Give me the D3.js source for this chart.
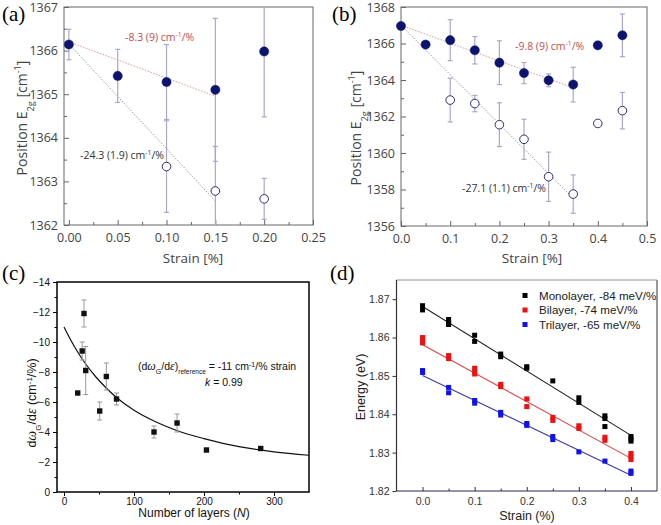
<!DOCTYPE html>
<html><head><meta charset="utf-8">
<script src="https://cdn.jsdelivr.net/npm/d3@7"></script>
<style>body{margin:0;background:#fff} svg{display:block}</style>
</head><body><svg id="c" width="661" height="525"></svg>
<script>
// ---------- DATA ----------
// Panel (a)
const aFilledStrain = [0, 0.05, 0.10, 0.15, 0.20];
const aFilledPos = [1366.14, 1365.42, 1365.28, 1365.10, 1365.98];
const aFilledErr = [0.35, 0.61, 0.86, 1.64, 1.50];
const aOpenStrain = [0.10, 0.15, 0.20];
const aOpenPos = [1363.34, 1362.78, 1362.60];
const aOpenErr = [1.05, 1.02, 0.47];
const aFitStrain = [0, 0.15];
const aFitFilled = [1366.20, 1364.955];
const aFitOpen = [1366.15, 1362.55];
const aXTicks = [0, 0.05, 0.10, 0.15, 0.20, 0.25];
const aYTicks = [1362, 1363, 1364, 1365, 1366, 1367];

// Panel (b)
const bFilledStrain = [0, 0.05, 0.10, 0.15, 0.20, 0.25, 0.30, 0.35, 0.40, 0.45];
const bFilledPos = [1366.96, 1365.94, 1366.18, 1365.63, 1364.95, 1364.38, 1363.98, 1363.75, 1365.90, 1366.45];
const bFilledErr = [0, 0, 1.12, 0.75, 1.2, 0.58, 0.35, 0.95, 0, 1.17];
const bOpenStrain = [0.10, 0.15, 0.20, 0.25, 0.30, 0.35, 0.40, 0.45];
const bOpenPos = [1362.90, 1362.71, 1361.55, 1360.75, 1358.70, 1357.75, 1361.62, 1362.32];
const bOpenErr = [1.2, 0.45, 1.2, 1.1, 1.35, 1.05, 0, 1.0];
const bFitStrain = [0, 0.35];
const bFitFilled = [1367.0, 1363.57];
const bFitOpen = [1367.0, 1357.52];
const bXTicks = [0, 0.1, 0.2, 0.3, 0.4, 0.5];
const bYTicks = [1356, 1358, 1360, 1362, 1364, 1366, 1368];

// Panel (c)
const cLayers = [19.6, 26, 28.6, 31, 51, 60.5, 75, 128.6, 161.5, 203.5, 281];
const cSlope = [-6.6, -9.4, -11.9, -8.1, -5.4, -7.7, -6.2, -4.0, -4.6, -2.8, -2.9];
const cErr = [0, 0.6, 0.9, 1.6, 0.6, 0.9, 0.4, 0.4, 0.6, 0, 0.1];
const cCurveN = [0, 10, 20, 30, 45, 60, 75, 100, 130, 160, 200, 250, 300, 350];
const cCurveVal = [-11.0, -10.1, -9.3, -8.6, -7.7, -6.95, -6.3, -5.45, -4.7, -4.12, -3.56, -3.02, -2.68, -2.45];
const cXTicks = [0, 100, 200, 300];
const cYTicks = [0, -2, -4, -6, -8, -10, -12, -14];

// Panel (d)
const dSeries = ["Monolayer, -84 meV/%", "Bilayer, -74 meV/%", "Trilayer, -65 meV/%"];
const monoStrain = [0,0, 0.05,0.05,0.05, 0.1,0.1, 0.15,0.15, 0.2,0.2, 0.25, 0.3,0.3, 0.35,0.35,0.35, 0.4,0.4,0.4];
const monoEnergy = [1.8683,1.8672, 1.8647,1.8640,1.8634, 1.8606,1.8590, 1.8557,1.8550, 1.8524,1.8520, 1.8487, 1.8443,1.8431, 1.8396,1.8389,1.8368, 1.8342,1.8336,1.8330];
const biStrain = [0,0,0, 0.05,0.05, 0.1,0.1,0.1, 0.15,0.15, 0.2,0.2, 0.25,0.25, 0.3,0.3, 0.35,0.35, 0.4,0.4,0.4];
const biEnergy = [1.8600,1.8593,1.8586, 1.8553,1.8545, 1.8520,1.8512,1.8505, 1.8478,1.8472, 1.8440,1.8420, 1.8392,1.8384, 1.8370,1.8363, 1.8340,1.8332, 1.8298,1.8290,1.8282];
const triStrain = [0,0, 0.05,0.05, 0.1,0.1, 0.15,0.15, 0.2,0.2, 0.25,0.25, 0.3, 0.35, 0.4,0.4];
const triEnergy = [1.8514,1.8509, 1.8470,1.8456, 1.8436,1.8429, 1.8405,1.8398, 1.8376,1.8371, 1.8342,1.8334, 1.8302, 1.8278, 1.8252,1.8246];
const dFitStrain = [0, 0.4];
const monoFit = [1.8681, 1.8345];
const biFit = [1.8581, 1.8285];
const triFit = [1.8501, 1.8241];
const dXTicks = [0.0, 0.1, 0.2, 0.3, 0.4];
const dYTicks = [1.82, 1.83, 1.84, 1.85, 1.86, 1.87];

// ---------- DRAW ----------
const svg = d3.select("#c");
const OS = "'Open Sans', 'DejaVu Sans', sans-serif";
const AR = "'Liberation Sans', Arial, sans-serif";
const SERIF = "'Liberation Serif', 'DejaVu Serif', serif";

function panelLabel(t, x, y) {
  svg.append("text").attr("x", x).attr("y", y).attr("font-family", SERIF)
    .attr("font-size", 21).attr("fill", "#000").text(t);
}

function supText(sel, parts) {
  parts.forEach(([t, m]) => {
    const ts = sel.append("tspan").text(t);
    if (m === 'sub') ts.attr("baseline-shift", "sub").attr("font-size", "65%");
    if (m === 'sup') ts.attr("baseline-shift", "super").attr("font-size", "65%");
  });
}

// ---- Raman panels (a) and (b) ----
function ramanPanel(o) {
  const g = svg.append("g");
  const x = d3.scaleLinear().domain(o.xDom).range([o.L, o.R]);
  const y = d3.scaleLinear().domain(o.yDom).range([o.B, o.T]);
  const yc = v => y(Math.max(o.yDom[0], Math.min(o.yDom[1], v)));
  const xMinor = g.append("g").attr("transform", `translate(0,${o.B})`)
    .call(d3.axisBottom(x).tickValues(o.xMinor).tickSize(-3).tickFormat(""));
  const yMinor = g.append("g").attr("transform", `translate(${o.L},0)`)
    .call(d3.axisLeft(y).tickValues(o.yMinor).tickSize(-3).tickFormat(""));
  const xa = g.append("g").attr("transform", `translate(0,${o.B})`)
    .call(d3.axisBottom(x).tickValues(o.xTicks).tickSize(-5).tickPadding(8).tickFormat(o.xFmt));
  const ya = g.append("g").attr("transform", `translate(${o.L},0)`)
    .call(d3.axisLeft(y).tickValues(o.yTicks).tickSize(-5).tickPadding(6).tickFormat(d3.format("d")));
  [xMinor, yMinor, xa, ya].forEach(a => {
    a.select(".domain").remove();
    a.selectAll("line").attr("stroke", "#666");
    a.selectAll("text").attr("font-family", OS).attr("font-size", 12.5).attr("fill", "#444");
  });
  g.append("rect").attr("x", o.L).attr("y", o.T).attr("width", o.R - o.L).attr("height", o.B - o.T)
    .attr("fill", "none").attr("stroke", "#666").attr("stroke-width", 1);

  const line = d3.line().x(d => x(d[0])).y(d => y(d[1]));
  g.append("path").datum(o.fitX.map((s, i) => [s, o.fitOpen[i]])).attr("d", line)
    .attr("fill", "none").attr("stroke", "#9a9ab4").attr("stroke-width", 1).attr("stroke-dasharray", "1.5,1.5");
  g.append("path").datum(o.fitX.map((s, i) => [s, o.fitFilled[i]])).attr("d", line)
    .attr("fill", "none").attr("stroke", "#e09a9a").attr("stroke-width", 1).attr("stroke-dasharray", "1.5,1.5");

  function errs(xs, ys, es) {
    xs.forEach((s, i) => {
      if (!es[i]) return;
      const lo = ys[i] - es[i], hi = ys[i] + es[i];
      const cx = x(s);
      g.append("line").attr("x1", cx).attr("x2", cx).attr("y1", yc(lo)).attr("y2", yc(hi))
        .attr("stroke", "#a8a8cc").attr("stroke-width", 1.2);
      [lo, hi].forEach(v => {
        if (v > o.yDom[0] && v < o.yDom[1])
          g.append("line").attr("x1", cx - 2.5).attr("x2", cx + 2.5).attr("y1", y(v)).attr("y2", y(v))
            .attr("stroke", "#a8a8cc").attr("stroke-width", 1.2);
      });
    });
  }
  errs(o.fs, o.fp, o.fe);
  errs(o.os, o.op, o.oe);

  g.selectAll(".open").data(o.os.map((s, i) => [s, o.op[i]])).join("circle")
    .attr("cx", d => x(d[0])).attr("cy", d => y(d[1])).attr("r", 4.3)
    .attr("fill", "#fff").attr("stroke", "#2d2d7a").attr("stroke-width", 1);
  g.selectAll(".filled").data(o.fs.map((s, i) => [s, o.fp[i]])).join("circle")
    .attr("cx", d => x(d[0])).attr("cy", d => y(d[1])).attr("r", 4.6)
    .attr("fill", "#0c1470").attr("stroke", "#0c1470").attr("stroke-width", 0.5);

  const t1 = g.append("text").attr("x", o.redLab[0]).attr("y", o.redLab[1])
    .attr("font-family", OS).attr("font-size", 10.5).attr("fill", "#c0504d");
  supText(t1, [[o.redTxt + " cm", null], ["-1", "sup"], ["/%", null]]);
  const t2 = g.append("text").attr("x", o.grayLab[0]).attr("y", o.grayLab[1])
    .attr("font-family", OS).attr("font-size", 10.5).attr("fill", "#333");
  supText(t2, [[o.grayTxt + " cm", null], ["-1", "sup"], ["/%", null]]);

  g.append("text").attr("x", o.xTitle[0]).attr("y", o.xTitle[1]).attr("text-anchor", "middle")
    .attr("font-family", OS).attr("font-size", 13.5).attr("fill", "#444").text("Strain [%]");
  const yt = g.append("text").attr("transform", `translate(${o.yTitle[0]},${o.yTitle[1]}) rotate(-90)`)
    .attr("text-anchor", "middle").attr("font-family", OS).attr("font-size", 14).attr("fill", "#444");
  supText(yt, [["Position E", null], ["2g", "sub"], [" [cm", null], ["-1", "sup"], ["]", null]]);
}

ramanPanel({
  L: 64, R: 313, T: 7, B: 225, xDom: [-0.005, 0.25], yDom: [1362, 1367],
  xTicks: aXTicks, yTicks: aYTicks, xMinor: [0.025, 0.075, 0.125, 0.175, 0.225],
  yMinor: [1362.5, 1363.5, 1364.5, 1365.5, 1366.5], xFmt: d3.format(".2f"),
  fs: aFilledStrain, fp: aFilledPos, fe: aFilledErr, os: aOpenStrain, op: aOpenPos, oe: aOpenErr,
  fitX: aFitStrain, fitFilled: aFitFilled, fitOpen: aFitOpen,
  redTxt: "-8.3 (9)", grayTxt: "-24.3 (1.9)", redLab: [125, 41], grayLab: [80, 159],
  xTitle: [193, 263], yTitle: [27, 118]
});
ramanPanel({
  L: 401, R: 647, T: 7, B: 226, xDom: [0, 0.5], yDom: [1356, 1368],
  xTicks: bXTicks, yTicks: bYTicks, xMinor: [0.05, 0.15, 0.25, 0.35, 0.45],
  yMinor: [1357, 1359, 1361, 1363, 1365, 1367], xFmt: d3.format(".1f"),
  fs: bFilledStrain, fp: bFilledPos, fe: bFilledErr, os: bOpenStrain, op: bOpenPos, oe: bOpenErr,
  fitX: bFitStrain, fitFilled: bFitFilled, fitOpen: bFitOpen,
  redTxt: "-9.8 (9)", grayTxt: "-27.1 (1.1)", redLab: [515, 50], grayLab: [462, 192],
  xTitle: [532, 263], yTitle: [361, 128]
});
panelLabel("(a)", 2, 21);
panelLabel("(b)", 332, 21);

// ---- Panel (c) ----
(function () {
  const L = 57, R = 309, T = 282, B = 492;
  const g = svg.append("g");
  const x = d3.scaleLinear().domain([-10, 350]).range([L, R]);
  const y = d3.scaleLinear().domain([0, -14]).range([B, T]);
  const xm = g.append("g").attr("transform", `translate(0,${B})`)
    .call(d3.axisBottom(x).tickValues([50, 150, 250]).tickSize(2.5).tickFormat(""));
  const ym = g.append("g").attr("transform", `translate(${L},0)`)
    .call(d3.axisLeft(y).tickValues([-1, -3, -5, -7, -9, -11, -13]).tickSize(2.5).tickFormat(""));
  const xa = g.append("g").attr("transform", `translate(0,${B})`)
    .call(d3.axisBottom(x).tickValues(cXTicks).tickSize(4).tickPadding(2));
  const ya = g.append("g").attr("transform", `translate(${L},0)`)
    .call(d3.axisLeft(y).tickValues(cYTicks).tickSize(4).tickPadding(3).tickFormat(d3.format("d")));
  [xm, ym, xa, ya].forEach(a => {
    a.select(".domain").remove();
    a.selectAll("line").attr("stroke", "#000").attr("stroke-width", 1);
    a.selectAll("text").attr("font-family", AR).attr("font-size", 10).attr("fill", "#111");
  });
  g.append("rect").attr("x", L).attr("y", T).attr("width", R - L).attr("height", B - T)
    .attr("fill", "none").attr("stroke", "#000").attr("stroke-width", 1.5);

  const curve = d3.line().x(d => x(d[0])).y(d => y(d[1])).curve(d3.curveMonotoneX);
  g.append("path").datum(cCurveN.map((n, i) => [n, cCurveVal[i]])).attr("d", curve)
    .attr("fill", "none").attr("stroke", "#111").attr("stroke-width", 1.2);

  cLayers.forEach((n, i) => {
    if (!cErr[i]) return;
    const cx = x(n), lo = y(cSlope[i] + cErr[i]), hi = y(cSlope[i] - cErr[i]);
    g.append("line").attr("x1", cx).attr("x2", cx).attr("y1", lo).attr("y2", hi).attr("stroke", "#999").attr("stroke-width", 1);
    [lo, hi].forEach(v => g.append("line").attr("x1", cx - 2.5).attr("x2", cx + 2.5).attr("y1", v).attr("y2", v)
      .attr("stroke", "#999").attr("stroke-width", 1));
  });
  g.selectAll(".sq").data(cLayers.map((n, i) => [n, cSlope[i]])).join("rect")
    .attr("x", d => x(d[0]) - 2.7).attr("y", d => y(d[1]) - 2.7).attr("width", 5.4).attr("height", 5.4)
    .attr("fill", "#111");

  const t = g.append("text").attr("x", 138).attr("y", 370).attr("font-family", AR).attr("font-size", 10.5).attr("fill", "#111");
  t.append("tspan").text("(d");
  t.append("tspan").attr("font-family", SERIF).attr("font-style", "italic").attr("font-size", 12).text("ω");
  t.append("tspan").attr("baseline-shift", "sub").attr("font-size", 7).text("G");
  t.append("tspan").text("/d");
  t.append("tspan").attr("font-family", SERIF).attr("font-style", "italic").attr("font-size", 12).text("ε");
  t.append("tspan").text(")");
  t.append("tspan").attr("baseline-shift", "sub").attr("font-size", 6.5).text("reference");
  t.append("tspan").text(" = -11 cm");
  t.append("tspan").attr("baseline-shift", "super").attr("font-size", 7).text("-1");
  t.append("tspan").text("/% strain");
  const k = g.append("text").attr("x", 205).attr("y", 386).attr("font-family", AR).attr("font-size", 10.5).attr("fill", "#111");
  k.append("tspan").attr("font-style", "italic").text("k");
  k.append("tspan").text(" = 0.99");

  const xt = g.append("text").attr("x", 194).attr("y", 517).attr("text-anchor", "middle")
    .attr("font-family", AR).attr("font-size", 12).attr("fill", "#111");
  xt.append("tspan").text("Number of layers (");
  xt.append("tspan").attr("font-style", "italic").text("N");
  xt.append("tspan").text(")");
  const yt = g.append("text").attr("transform", `translate(36,403) rotate(-90)`).attr("text-anchor", "middle")
    .attr("font-family", AR).attr("font-size", 12.5).attr("fill", "#111");
  yt.append("tspan").text("d");
  yt.append("tspan").attr("font-family", SERIF).attr("font-style", "italic").attr("font-size", 14).text("ω");
  yt.append("tspan").attr("baseline-shift", "sub").attr("font-size", 8).text("G");
  yt.append("tspan").text("/d");
  yt.append("tspan").attr("font-family", SERIF).attr("font-style", "italic").attr("font-size", 14).text("ε");
  yt.append("tspan").text(" (cm");
  yt.append("tspan").attr("baseline-shift", "super").attr("font-size", 8).text("-1");
  yt.append("tspan").text("/%)");
})();
panelLabel("(c)", 2, 280);

// ---- Panel (d) ----
(function () {
  const L = 396.5, R = 657, T = 280, B = 491;
  const g = svg.append("g");
  const x = d3.scaleLinear().domain([-0.05, 0.45]).range([L, R]);
  const y = d3.scaleLinear().domain([1.82, 1.875]).range([B, T]);
  const xm = g.append("g").attr("transform", `translate(0,${B})`)
    .call(d3.axisBottom(x).tickValues([0.05, 0.15, 0.25, 0.35]).tickSize(-2.5).tickFormat(""));
  const xa = g.append("g").attr("transform", `translate(0,${B})`)
    .call(d3.axisBottom(x).tickValues(dXTicks).tickSize(-4).tickPadding(7).tickFormat(d3.format(".1f")));
  const ya = g.append("g").attr("transform", `translate(${L},0)`)
    .call(d3.axisLeft(y).tickValues(dYTicks).tickSize(4).tickPadding(3).tickFormat(d3.format(".2f")));
  [xm, xa, ya].forEach(a => {
    a.select(".domain").remove();
    a.selectAll("line").attr("stroke", "#333");
    a.selectAll("text").attr("font-family", AR).attr("font-size", 10.5).attr("fill", "#333");
  });
  g.append("line").attr("x1", L).attr("x2", R).attr("y1", T).attr("y2", T).attr("stroke", "#777").attr("stroke-width", 0.8);
  g.append("line").attr("x1", R).attr("x2", R).attr("y1", T).attr("y2", B).attr("stroke", "#777").attr("stroke-width", 1.5);
  g.append("line").attr("x1", L).attr("x2", L).attr("y1", T).attr("y2", B).attr("stroke", "#333").attr("stroke-width", 1.2);
  g.append("line").attr("x1", L).attr("x2", R).attr("y1", B).attr("y2", B).attr("stroke", "#2a2a55").attr("stroke-width", 1.2);

  const sets = [
    { sx: monoStrain, e: monoEnergy, fit: monoFit, c: "#000", lc: "#222" },
    { sx: biStrain, e: biEnergy, fit: biFit, c: "#ee1111", lc: "#e04545" },
    { sx: triStrain, e: triEnergy, fit: triFit, c: "#1111ee", lc: "#3a3aa8" }
  ];
  const line = d3.line().x(d => x(d[0])).y(d => y(d[1]));
  sets.forEach(s => {
    g.append("path").datum(dFitStrain.map((v, i) => [v, s.fit[i]])).attr("d", line)
      .attr("fill", "none").attr("stroke", s.lc).attr("stroke-width", 1.1);
    g.selectAll(null).data(s.sx.map((v, i) => [v, s.e[i]])).join("rect")
      .attr("x", d => x(d[0]) - 2.5).attr("y", d => y(d[1]) - 2.5).attr("width", 5).attr("height", 5)
      .attr("fill", s.c);
  });
  sets.forEach((s, i) => {
    const ly = 295.5 + i * 14.5;
    g.append("rect").attr("x", 522.5).attr("y", ly - 2.5).attr("width", 5).attr("height", 5).attr("fill", s.c);
    g.append("text").attr("x", 539).attr("y", ly + 4.2).attr("font-family", AR).attr("font-size", 11.6)
      .attr("fill", "#222").text(dSeries[i]);
  });
  g.append("text").attr("x", 527).attr("y", 520).attr("text-anchor", "middle")
    .attr("font-family", AR).attr("font-size", 12.5).attr("fill", "#222").text("Strain (%)");
  g.append("text").attr("transform", `translate(365,387) rotate(-90)`).attr("text-anchor", "middle")
    .attr("font-family", AR).attr("font-size", 12.5).attr("fill", "#222").text("Energy (eV)");
})();
panelLabel("(d)", 330, 280);
</script></body></html>
